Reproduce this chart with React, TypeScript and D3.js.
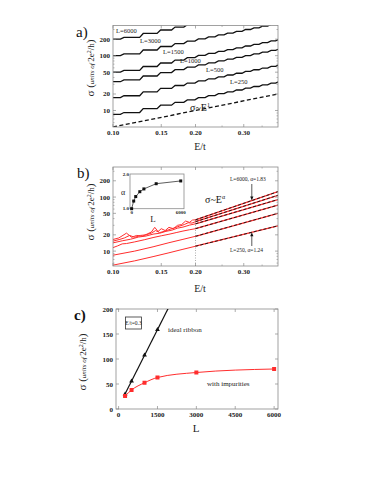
import React from "react";
import * as d3 from "d3";

// panel a) ideal ribbons, staircase sigma ~ E
const aLs = ["6000", "3000", "1500", "1000", "500", "250"];
const aStart = [200, 100, 50, 33.5, 17.2, 8.5]; // sigma at E=0.10
const aStepEdges = [0.108, 0.127, 0.147, 0.166, 0.184, 0.202, 0.22, 0.239, 0.258, 0.278, 0.3, 0.322, 0.346, 0.372, 0.398];
const aDashed: [number, number][] = [[0.1, 5], [0.4, 20]];

// panel b) with impurities, E from 0.10 to 0.20 (noisy part)
const bL6000: [number, number][] = [[0.1, 16.4], [0.105, 17.5], [0.112, 21.5], [0.117, 18], [0.122, 19.5], [0.128, 18.8], [0.134, 21], [0.138, 22.5], [0.142, 27.5], [0.146, 23], [0.15, 26], [0.155, 24], [0.16, 27.5], [0.166, 26], [0.172, 30], [0.178, 31], [0.184, 36], [0.19, 34], [0.195, 37.5], [0.2, 38]];
const bL3000: [number, number][] = [[0.1, 15.3], [0.106, 16.5], [0.11, 17.5], [0.115, 19.5], [0.12, 18], [0.126, 19.5], [0.132, 20], [0.138, 21.5], [0.143, 24], [0.148, 22], [0.155, 23.5], [0.162, 25.5], [0.168, 27], [0.175, 29], [0.182, 31], [0.188, 33.5], [0.194, 33], [0.2, 35]];
const bL1500: [number, number][] = [[0.1, 14.2], [0.108, 15.5], [0.116, 16.6], [0.124, 18.2], [0.132, 19], [0.14, 20.6], [0.148, 21.4], [0.156, 23.2], [0.164, 24.4], [0.172, 26.6], [0.18, 27.8], [0.19, 30.2], [0.2, 32]];
const bL1000: [number, number][] = [[0.1, 11.6], [0.104, 12.5], [0.108, 13.6], [0.112, 13.8], [0.12, 14.8], [0.13, 16.2], [0.14, 17.8], [0.15, 19.2], [0.16, 20.5], [0.17, 22], [0.18, 23.5], [0.19, 24.8], [0.2, 26]];
const bL500: [number, number][] = [[0.1, 8.4], [0.12, 10], [0.14, 12], [0.16, 14.3], [0.18, 16.5], [0.2, 18.8]];
const bL250: [number, number][] = [[0.1, 5.5], [0.12, 6.6], [0.14, 7.9], [0.16, 9.3], [0.18, 10.8], [0.2, 12.3]];
const bCurves = [bL6000, bL3000, bL1500, bL1000, bL500, bL250];
// power-law fits, sigma at E=0.2 and E=0.4
const bFitAt02 = [38, 35, 32, 26, 18.8, 12.3];
const bFitAt04 = [126, 108, 90, 71, 50, 29.4];

// inset: alpha vs L
const insetL = [0, 250, 500, 1000, 1500, 3000, 6000];
const insetAlpha = [1.0, 1.22, 1.35, 1.49, 1.57, 1.72, 1.8];

// panel c) E/t = 0.3
const cIdealL = [250, 500, 1000, 1500];
const cIdealS = [30, 56, 108, 159];
const cIdealFit: [number, number][] = [[200, 25], [1950, 205]];
const cImpL = [250, 500, 1000, 1500, 3000, 6000];
const cImpS = [26, 38, 52.5, 63, 73, 80];

const serif = "'Liberation Serif', 'Times New Roman', serif";
const RED = "#ff2d2d";
const FRAME = "#8a8a8a";

const xA = d3.scaleLog().domain([0.1, 0.4]).range([113, 278]);
const yA = d3.scaleLog().domain([5, 355]).range([127, 25.5]);
const xB = d3.scaleLog().domain([0.1, 0.4]).range([113, 278]);
const yB = d3.scaleLog().domain([5.3, 360]).range([266, 167]);
const xI = d3.scaleLinear().domain([-200, 6400]).range([130, 184]);
const yI = d3.scaleLinear().domain([1.0, 2.0]).range([208.7, 174]);
const xC = d3.scaleLinear().domain([-100, 6150]).range([116, 278]);
const yC = d3.scaleLinear().domain([0, 200]).range([409, 309]);

function stairs(s0: number): [number, number][] {
  const pts: [number, number][] = [[0.1, s0]];
  let prev = 0.1;
  aStepEdges.forEach((e) => {
    pts.push([e / 1.015, (s0 * prev) / 0.1]);
    pts.push([e * 1.015, (s0 * e) / 0.1]);
    prev = e;
  });
  pts.push([0.41, (s0 * prev) / 0.1]);
  return pts;
}

function YLabel({ x, y }: { x: number; y: number }) {
  return (
    <text transform={`translate(${x},${y}) rotate(-90)`} textAnchor="middle" fontFamily={serif} fill="#222">
      <tspan fontSize={11}>σ (</tspan>
      <tspan fontSize={7} fontStyle="italic">units of </tspan>
      <tspan fontSize={9}> 2e</tspan>
      <tspan fontSize={6} dy={-3.5}>2</tspan>
      <tspan fontSize={9} dy={3.5}>/h</tspan>
      <tspan fontSize={11}>)</tspan>
    </text>
  );
}

function LogFrame({ xs, ys, yMajor, yMinor }: { xs: any; ys: any; yMajor: number[]; yMinor: number[] }) {
  const [x0, x1] = xs.range();
  const [y0, y1] = ys.range();
  const xMajor = [0.1, 0.15, 0.2, 0.3];
  const xMinor = [0.25, 0.35];
  return (
    <g>
      <rect x={x0} y={y1} width={x1 - x0} height={y0 - y1} fill="none" stroke={FRAME} strokeWidth={0.8} />
      {yMajor.map((v) => (
        <g key={"ym" + v}>
          <line x1={x0} x2={x0 + 3} y1={ys(v)} y2={ys(v)} stroke={FRAME} strokeWidth={0.7} />
          <line x1={x1} x2={x1 - 3} y1={ys(v)} y2={ys(v)} stroke={FRAME} strokeWidth={0.7} />
          <text x={x0 - 3} y={ys(v) + 2.5} textAnchor="end" fontSize={7} fontWeight="bold" fontFamily={serif} fill="#222">{v}</text>
        </g>
      ))}
      {yMinor.map((v) => (
        <g key={"yn" + v}>
          <line x1={x0} x2={x0 + 1.5} y1={ys(v)} y2={ys(v)} stroke={FRAME} strokeWidth={0.6} />
          <line x1={x1} x2={x1 - 1.5} y1={ys(v)} y2={ys(v)} stroke={FRAME} strokeWidth={0.6} />
        </g>
      ))}
      {xMajor.map((v) => (
        <g key={"xm" + v}>
          <line x1={xs(v)} x2={xs(v)} y1={y0} y2={y0 - 3} stroke={FRAME} strokeWidth={0.7} />
          <line x1={xs(v)} x2={xs(v)} y1={y1} y2={y1 + 3} stroke={FRAME} strokeWidth={0.7} />
          <text x={xs(v)} y={y0 + 8} textAnchor="middle" fontSize={7} fontWeight="bold" fontFamily={serif} fill="#222">{v.toFixed(2)}</text>
        </g>
      ))}
      {xMinor.map((v) => (
        <g key={"xn" + v}>
          <line x1={xs(v)} x2={xs(v)} y1={y0} y2={y0 - 1.5} stroke={FRAME} strokeWidth={0.6} />
          <line x1={xs(v)} x2={xs(v)} y1={y1} y2={y1 + 1.5} stroke={FRAME} strokeWidth={0.6} />
        </g>
      ))}
    </g>
  );
}

export default function App() {
  const lineA = d3.line<[number, number]>().x((d) => xA(d[0])).y((d) => yA(d[1]));
  const lineB = d3.line<[number, number]>().x((d) => xB(d[0])).y((d) => yB(d[1]));
  const lineI = d3.line<number>().x((d, i) => xI(insetL[i])).y((d) => yI(d));
  const lineCideal = d3.line<[number, number]>().x((d) => xC(d[0])).y((d) => yC(d[1]));
  const lineCimp = d3.line<number>().x((d, i) => xC(cImpL[i])).y((d) => yC(d)).curve(d3.curveMonotoneX);

  const aLabelPos = [[116, 33], [140, 43], [163, 54], [180, 63], [206, 72], [230, 84]];

  // arrow targets in b
  const eArrow = 0.321;
  const fitVal = (i: number, e: number) => bFitAt02[i] * Math.pow(e / 0.2, Math.log(bFitAt04[i] / bFitAt02[i]) / Math.log(2));
  const arrTop = yB(fitVal(0, eArrow));
  const arrBot = yB(fitVal(5, eArrow));
  const ax = xB(eArrow);

  const triangle = (x: number, y: number) => `M${x},${y - 2.6}L${x + 2.4},${y + 1.6}L${x - 2.4},${y + 1.6}Z`;

  return (
    <svg width={374} height={484} style={{ position: "absolute", left: 0, top: 0, background: "#fff", fontFamily: serif }}>
      <defs>
        <clipPath id="clipA"><rect x={113} y={25.5} width={165} height={101.5} /></clipPath>
        <clipPath id="clipB"><rect x={113} y={167} width={165} height={99} /></clipPath>
        <clipPath id="clipC"><rect x={116} y={309} width={162} height={100} /></clipPath>
      </defs>

      {/* ---------- a) ---------- */}
      <text x={76} y={37} fontSize={15} fill="#111">a)</text>
      <g clipPath="url(#clipA)">
        {aStart.map((s, i) => (
          <path key={"a" + i} d={lineA(stairs(s)) || ""} fill="none" stroke="#111" strokeWidth={1.3} />
        ))}
        <path d={lineA(aDashed) || ""} fill="none" stroke="#111" strokeWidth={1.3} strokeDasharray="4,2.5" />
      </g>
      <LogFrame xs={xA} ys={yA} yMajor={[10, 20, 50, 100, 200]} yMinor={[6, 7, 8, 9, 30, 40, 60, 70, 80, 90, 300]} />
      {aLs.map((l, i) => (
        <text key={"al" + i} x={aLabelPos[i][0]} y={aLabelPos[i][1]} fontSize={6.5} fill="#222">L={l}</text>
      ))}
      <text x={190} y={111} fontSize={10} fill="#111">σ~E<tspan fontSize={6} dy={-4}>1</tspan></text>
      <YLabel x={94} y={68} />
      <text x={200} y={150} textAnchor="middle" fontSize={10} fill="#222">E/t</text>

      {/* ---------- b) ---------- */}
      <text x={77} y={178} fontSize={15} fill="#111">b)</text>
      <line x1={xB(0.2)} x2={xB(0.2)} y1={266} y2={yB(40)} stroke="#999" strokeWidth={0.8} strokeDasharray="1,1.5" />
      <g clipPath="url(#clipB)">
        {bCurves.map((c, i) => (
          <g key={"b" + i}>
            <path d={lineB(c) || ""} fill="none" stroke={RED} strokeWidth={1} />
            <path d={lineB([[0.2, bFitAt02[i]], [0.4, bFitAt04[i]]]) || ""} fill="none" stroke={RED} strokeWidth={1.3} />
            <path d={lineB([[0.2, bFitAt02[i]], [0.4, bFitAt04[i]]]) || ""} fill="none" stroke="#111" strokeWidth={0.9} strokeDasharray="3,2" />
          </g>
        ))}
      </g>
      <LogFrame xs={xB} ys={yB} yMajor={[10, 20, 50, 100, 200]} yMinor={[6, 7, 8, 9, 30, 40, 60, 70, 80, 90, 300]} />
      {/* inset */}
      <rect x={130} y={174} width={54} height={34.7} fill="#fff" stroke={FRAME} strokeWidth={0.8} />
      <path d={lineI(insetAlpha) || ""} fill="none" stroke="#333" strokeWidth={0.8} />
      {insetAlpha.map((a, i) => (
        <rect key={"ip" + i} x={xI(insetL[i]) - 1.5} y={yI(a) - 1.5} width={3} height={3} fill="#111" />
      ))}
      <text x={129} y={176} textAnchor="end" fontSize={5} fontWeight="bold" fill="#222">2.0</text>
      <text x={129} y={210} textAnchor="end" fontSize={5} fontWeight="bold" fill="#222">1.0</text>
      <text x={xI(0)} y={214} textAnchor="middle" fontSize={5} fontWeight="bold" fill="#222">0</text>
      <text x={xI(6000)} y={214} textAnchor="middle" fontSize={5} fontWeight="bold" fill="#222">6000</text>
      <text x={123} y={195} textAnchor="middle" fontSize={8} fill="#222">α</text>
      <text x={153} y={222} textAnchor="middle" fontSize={9} fill="#222">L</text>
      <text x={205} y={203} fontSize={10} fill="#111">σ~E<tspan fontSize={6} dy={-4}>α</tspan></text>
      <text x={230} y={181} fontSize={5.5} fill="#222">L=6000, α=1.83</text>
      <line x1={ax} x2={ax} y1={184} y2={arrTop - 3} stroke="#111" strokeWidth={0.7} />
      <path d={`M${ax - 1.6},${arrTop - 4}L${ax + 1.6},${arrTop - 4}L${ax},${arrTop}Z`} fill="#111" />
      <text x={230} y={252} fontSize={5.5} fill="#222">L=250, α=1.24</text>
      <line x1={ax} x2={ax} y1={246} y2={arrBot + 3} stroke="#111" strokeWidth={0.7} />
      <path d={`M${ax - 1.6},${arrBot + 4}L${ax + 1.6},${arrBot + 4}L${ax},${arrBot}Z`} fill="#111" />
      <YLabel x={94} y={212} />
      <text x={200} y={292} textAnchor="middle" fontSize={10} fill="#222">E/t</text>

      {/* ---------- c) ---------- */}
      <text x={74} y={320} fontSize={15} fontWeight="bold" fill="#111">c)</text>
      <rect x={116} y={309} width={162} height={100} fill="none" stroke={FRAME} strokeWidth={0.8} />
      {[0, 50, 100, 150, 200].map((v) => (
        <g key={"cy" + v}>
          <line x1={116} x2={119} y1={yC(v)} y2={yC(v)} stroke={FRAME} strokeWidth={0.7} />
          <line x1={278} x2={275} y1={yC(v)} y2={yC(v)} stroke={FRAME} strokeWidth={0.7} />
          <text x={113} y={yC(v) + 2.5} textAnchor="end" fontSize={7} fontWeight="bold" fill="#222">{v}</text>
        </g>
      ))}
      {[0, 1500, 3000, 4500, 6000].map((v) => (
        <g key={"cx" + v}>
          <line x1={xC(v)} x2={xC(v)} y1={409} y2={406} stroke={FRAME} strokeWidth={0.7} />
          <line x1={xC(v)} x2={xC(v)} y1={309} y2={312} stroke={FRAME} strokeWidth={0.7} />
          <text x={xC(v)} y={417} textAnchor="middle" fontSize={7} fontWeight="bold" fill="#222">{v}</text>
        </g>
      ))}
      <g clipPath="url(#clipC)">
        <path d={lineCideal(cIdealFit) || ""} fill="none" stroke="#111" strokeWidth={1.2} />
      </g>
      {cIdealS.map((s, i) => (
        <path key={"ct" + i} d={triangle(xC(cIdealL[i]), yC(s))} fill="#111" />
      ))}
      <path d={lineCimp(cImpS) || ""} fill="none" stroke={RED} strokeWidth={1} />
      {cImpS.map((s, i) => (
        <rect key={"cs" + i} x={xC(cImpL[i]) - 2} y={yC(s) - 2} width={4} height={4} fill={RED} />
      ))}
      <rect x={125.5} y={317} width={16} height={12} fill="#fff" stroke="#333" strokeWidth={0.8} />
      <text x={133.5} y={325} textAnchor="middle" fontSize={5.5} fill="#222">E/t=0.3</text>
      <text x={168} y={332} fontSize={7} fill="#222">ideal ribbon</text>
      <text x={207} y={386} fontSize={7} fill="#222">with impurities</text>
      <YLabel x={86} y={362} />
      <text x={196} y={432} textAnchor="middle" fontSize={11} fill="#222">L</text>
    </svg>
  );
}
